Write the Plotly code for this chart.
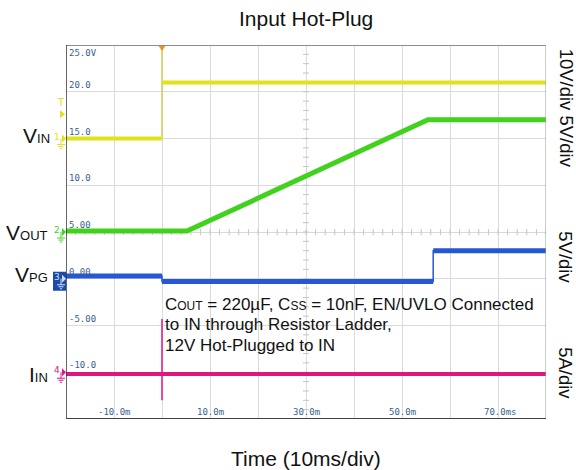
import numpy as np
import plotly.graph_objects as go

# ---- scope settings (display units: 5 per division, 8 divisions from -15 to 25) ----
Y_MIN, Y_MAX = -15, 25
T_MIN, T_MAX = -20, 80          # ms, 10 ms/div

# ---- captured waveforms ----
# VIN, 10 V/div, ground reference at display 15
vin_t = [-20, 0, 0, 80]
vin_v = [0.0, 0.0, 12.0, 12.0]
vin_edge_t = [0, 0]
vin_edge_v = [0.0, 20.0]

# VOUT, 5 V/div, ground reference at display 5
vout_t = [-20, 5.2, 55.4, 80]
vout_v = [0.1, 0.1, 12.0, 12.0]

# VPG, 5 V/div, ground reference at display 0
vpg_t = [-20, 0, 0, 56.5, 56.5, 80]
vpg_v = [0.3, 0.3, -0.3, -0.3, 3.0, 3.0]

# IIN, 5 A/div, ground reference at display -10
iin_t = [-20, 80]
iin_a = [-0.2, -0.2]
iin_spike_t = [0, 0]
iin_spike_a = [5.7, -3.0]

# channel scale / offset (units per division, ground position in display units)
VIN_SCALE, VIN_GND = 10, 15
VOUT_SCALE, VOUT_GND = 5, 5
VPG_SCALE, VPG_GND = 5, 0
IIN_SCALE, IIN_GND = 5, -10

y_tick_vals = [25, 20, 15, 10, 5, 0, -5, -10]
y_tick_text = ["25.0V", "20.0", "15.0", "10.0", "5.00", "0.00", "-5.00", "-10.0"]
x_tick_vals = [-10, 10, 30, 50, 70]
x_tick_text = ["-10.0m", "10.0m", "30.0m", "50.0m", "70.0ms"]

YELLOW = "#e2e21c"
YELLOW_EDGE = "#cfcf55"
GREEN = "#41d21e"
BLUE = "#2657d4"
MAGENTA = "#e0157f"
LABEL_BLUE = "#3a5f8e"


def to_disp(values, scale, gnd):
    return [gnd + v * 5.0 / scale for v in values]


def yp(v):
    """display units -> paper fraction"""
    return (v - Y_MIN) / (Y_MAX - Y_MIN)


fig = go.Figure()

# minor ticks on the center graticule lines
tx, ty = [], []
for t in np.arange(T_MIN, T_MAX + 0.01, 2):
    tx += [t, t, None]
    ty += [5 - 0.32, 5 + 0.32, None]
for y in np.arange(Y_MIN, Y_MAX + 0.01, 1):
    tx += [30 - 0.62, 30 + 0.62, None]
    ty += [y, y, None]
fig.add_trace(go.Scatter(x=tx, y=ty, mode="lines", line=dict(color="#c4c4c4", width=1),
                         hoverinfo="skip", showlegend=False))

line_kw = dict(mode="lines", hoverinfo="skip", showlegend=False)

# VIN
fig.add_trace(go.Scatter(x=vin_edge_t, y=to_disp(vin_edge_v, VIN_SCALE, VIN_GND),
                         line=dict(color=YELLOW_EDGE, width=1.5), **line_kw))
fig.add_trace(go.Scatter(x=vin_t[:2], y=to_disp(vin_v[:2], VIN_SCALE, VIN_GND),
                         line=dict(color=YELLOW, width=4), **line_kw))
fig.add_trace(go.Scatter(x=vin_t[2:], y=to_disp(vin_v[2:], VIN_SCALE, VIN_GND),
                         line=dict(color=YELLOW, width=4), **line_kw))

# VOUT
fig.add_trace(go.Scatter(x=vout_t, y=to_disp(vout_v, VOUT_SCALE, VOUT_GND),
                         line=dict(color=GREEN, width=5), **line_kw))

# VPG: flat levels thick, edges thin
fig.add_trace(go.Scatter(x=vpg_t, y=to_disp(vpg_v, VPG_SCALE, VPG_GND),
                         line=dict(color=BLUE, width=1.5), **line_kw))
for i in (0, 2, 4):
    fig.add_trace(go.Scatter(x=vpg_t[i:i + 2], y=to_disp(vpg_v[i:i + 2], VPG_SCALE, VPG_GND),
                             line=dict(color=BLUE, width=5), **line_kw))

# IIN
fig.add_trace(go.Scatter(x=iin_spike_t, y=to_disp(iin_spike_a, IIN_SCALE, IIN_GND),
                         line=dict(color=MAGENTA, width=1.5), **line_kw))
fig.add_trace(go.Scatter(x=iin_t, y=to_disp(iin_a, IIN_SCALE, IIN_GND),
                         line=dict(color=MAGENTA, width=4), **line_kw))

annotations = []
# graticule value labels inside the screen
for v, s in zip(y_tick_vals, y_tick_text):
    annotations.append(dict(x=T_MIN, y=v, xref="x", yref="y", text=s, showarrow=False,
                            xanchor="left", yanchor="top" if v == Y_MAX else "bottom",
                            xshift=1, yshift=-1 if v == Y_MAX else 0,
                            font=dict(family="DejaVu Sans Mono", size=9, color=LABEL_BLUE)))
for v, s in zip(x_tick_vals, x_tick_text):
    annotations.append(dict(x=v, y=Y_MIN, xref="x", yref="y", text=s, showarrow=False,
                            xanchor="center", yanchor="bottom", yshift=0,
                            xshift=2 if s.endswith("ms") else 0,
                            font=dict(family="DejaVu Sans Mono", size=9, color=LABEL_BLUE)))

SANS = "Liberation Sans"
# channel names on the left
for y, txt, xs in [(15.3, "V<span style='font-size:13px'>IN</span>", -14),
                   (4.9, "V<span style='font-size:13px'>OUT</span>", -16),
                   (0.5, "V<span style='font-size:13px'>PG</span>", -16),
                   (-10.2, "I<span style='font-size:13px'>IN</span>", -16)]:
    annotations.append(dict(x=T_MIN, y=y, xref="x", yref="y", text=txt, showarrow=False,
                            xanchor="right", yanchor="middle", xshift=xs,
                            font=dict(family=SANS, size=21, color="#111111")))

# per-channel scale on the right
for y, txt in [(18.3, "10V/div 5V/div"), (2.3, "5V/div"), (-10.1, "5A/div")]:
    annotations.append(dict(x=1, y=y, xref="paper", yref="y", text=txt, showarrow=False,
                            xanchor="center", yanchor="middle", xshift=20, textangle=90,
                            font=dict(family=SANS, size=18.5, color="#111111")))

# test conditions
cond_lines = ["C<span style='font-size:12px'>OUT</span> = 220µF, C<span style='font-size:12px'>SS</span> = 10nF, EN/UVLO Connected",
              "to IN through Resistor Ladder,",
              "12V Hot-Plugged to IN"]
for i, txt in enumerate(cond_lines):
    annotations.append(dict(x=0, y=-2.7 - i * 2.2, xref="x", yref="y", text=txt, showarrow=False,
                            xanchor="left", yanchor="middle", xshift=1,
                            font=dict(family=SANS, size=17, color="#111111")))

# titles
annotations.append(dict(x=0.5, y=1, xref="paper", yref="paper", text="Input Hot-Plug",
                        showarrow=False, xanchor="center", yanchor="middle", yshift=27,
                        font=dict(family=SANS, size=21, color="#111111")))
annotations.append(dict(x=0.5, y=0, xref="paper", yref="paper", text="Time (10ms/div)",
                        showarrow=False, xanchor="center", yanchor="middle", yshift=-39,
                        font=dict(family=SANS, size=21, color="#111111")))

# channel ground markers (drawn in paper space so they sit left of the screen)
markers = [(VIN_GND, YELLOW, "1"), (VOUT_GND, GREEN, "2"), (VPG_GND, "#cfe0ff", "3"),
           (IIN_GND, MAGENTA, "4")]
shapes = []
pix = dict(xref="paper", yref="paper", xsizemode="pixel", ysizemode="pixel", xanchor=0,
           layer="above")
# VPG marker box
shapes.append(dict(type="rect", yanchor=yp(VPG_GND), x0=-13, x1=0, y0=-12, y1=7,
                   fillcolor="#1c4aa8", line=dict(width=0), **pix))
for gy, col, num in markers:
    annotations.append(dict(x=0, y=yp(gy), xref="paper", yref="paper", text=num, showarrow=False,
                            xanchor="center", yanchor="middle", xshift=-9, yshift=2,
                            font=dict(family="DejaVu Sans", size=9, color=col)))
    shapes.append(dict(type="path", yanchor=yp(gy), path="M -4,4 L 0,0 L -4,-4 Z",
                       fillcolor=col, line=dict(width=0), **pix))
    for y0, half in [(-6, 4), (-8, 2.5), (-10, 1)]:
        shapes.append(dict(type="line", yanchor=yp(gy), x0=-5 - half, x1=-5 + half, y0=y0, y1=y0,
                           line=dict(color=col, width=1), **pix))
    shapes.append(dict(type="line", yanchor=yp(gy), x0=-5, x1=-5, y0=0, y1=-6,
                       line=dict(color=col, width=1), **pix))

# trigger level marker for VIN
annotations.append(dict(x=0, y=yp(18.8), xref="paper", yref="paper", text="T", showarrow=False,
                        xanchor="center", yanchor="middle", xshift=-5,
                        font=dict(family="DejaVu Sans", size=10, color=YELLOW)))
shapes.append(dict(type="path", yanchor=yp(17.6), path="M -6,4 L -1,0 L -6,-4 Z",
                   fillcolor=YELLOW, line=dict(width=0), **pix))

# trigger position marker at top
shapes.append(dict(type="path", xref="x", yref="paper", xsizemode="pixel", ysizemode="pixel",
                   xanchor=0, yanchor=1, path="M -4,0 L 4,0 L 0,-6 Z",
                   fillcolor="#f0901e", line=dict(width=0), layer="above"))

# screen frame
frame = [((T_MIN, Y_MAX), (T_MAX, Y_MAX), "#8c8c8c", 2),
         ((T_MAX, Y_MIN), (T_MAX, Y_MAX), "#9a9a9a", 1),
         ((T_MIN, Y_MIN), (T_MIN, Y_MAX), "#333333", 1.5),
         ((T_MIN, Y_MIN), (T_MAX, Y_MIN), "#404040", 2)]
for (x0, y0), (x1, y1), col, w in frame:
    shapes.append(dict(type="line", xref="x", yref="y", x0=x0, y0=y0, x1=x1, y1=y1,
                       line=dict(color=col, width=w), layer="above"))

fig.update_layout(
    width=576, height=470,
    margin=dict(l=66, r=30, t=45, b=51),
    paper_bgcolor="white", plot_bgcolor="white",
    showlegend=False,
    xaxis=dict(range=[T_MIN, T_MAX], tick0=0, dtick=10, showgrid=True, gridcolor="#dadada",
               gridwidth=1, zeroline=False, showticklabels=False, ticks="", showline=False,
               fixedrange=True),
    yaxis=dict(range=[Y_MIN, Y_MAX], tick0=0, dtick=5, showgrid=True, gridcolor="#dadada",
               gridwidth=1, zeroline=False, showticklabels=False, ticks="", showline=False,
               fixedrange=True),
    annotations=annotations,
    shapes=shapes,
)

fig.write_html("out.html")
